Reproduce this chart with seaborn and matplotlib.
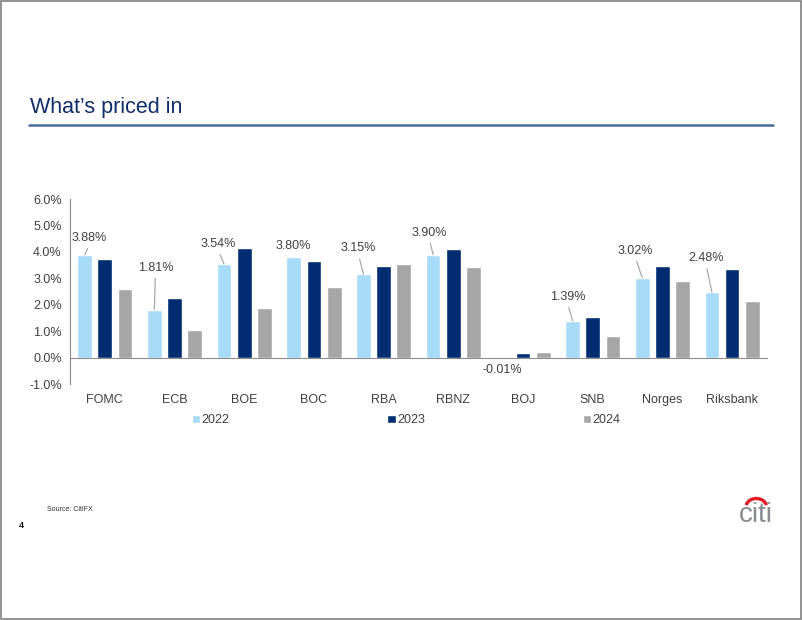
import pandas as pd
import matplotlib.pyplot as plt
import matplotlib.patches as mpatches
from matplotlib.ticker import FixedLocator, FuncFormatter
import seaborn as sns

banks = ['FOMC', 'ECB', 'BOE', 'BOC', 'RBA', 'RBNZ', 'BOJ', 'SNB', 'Norges', 'Riksbank']
years = ['2022', '2023', '2024']
y2022 = [3.88, 1.81, 3.54, 3.80, 3.15, 3.90, -0.01, 1.39, 3.02, 2.48]
y2023 = [3.74, 2.25, 4.14, 3.67, 3.47, 4.12, 0.17, 1.52, 3.46, 3.34]
y2024 = [2.59, 1.04, 1.87, 2.67, 3.54, 3.44, 0.22, 0.82, 2.90, 2.14]
yticks = [-1, 0, 1, 2, 3, 4, 5, 6]

# label offsets for the 2022 data labels (pixels from bar top)
label_offsets = [(5, 17), (1, 42), (-6, 20), (0, 11), (-5, 26),
                 (-4, 22), (-1, -12), (-5, 24), (-7, 27), (-6, 34)]

df = pd.DataFrame({'bank': banks * 3,
                   'year': [y for y in years for _ in banks],
                   'value': y2022 + y2023 + y2024})

sns.set_style('white')
plt.rcParams['font.family'] = ['Liberation Sans', 'DejaVu Sans']
text_col = '#404040'
axis_col = '#8c8c8c'
palette = {'2022': '#a6dcf7', '2023': '#002d72', '2024': '#a6a6a6'}

fig = plt.figure(figsize=(8.02, 6.2), dpi=100)
ax = fig.add_axes([0.0873, 0.3806, 0.869, 0.2984])

sns.barplot(data=df, x='bank', y='value', hue='year', hue_order=years,
            order=banks, palette=palette, width=0.87, gap=0.27,
            saturation=1, ax=ax)

ax.set_xlim(-0.5, len(banks) - 0.5)
ax.set_ylim(-1, 6)
ax.set_yticks(yticks)
ax.yaxis.set_major_formatter(FuncFormatter(lambda v, p: f'{v:.1f}%'))
ax.set_xlabel('')
ax.set_ylabel('')

for s in ['top', 'right']:
    ax.spines[s].set_visible(False)
ax.spines['left'].set_color(axis_col)
ax.spines['left'].set_linewidth(0.8)
ax.spines['bottom'].set_position(('data', 0))
ax.spines['bottom'].set_color(axis_col)
ax.spines['bottom'].set_linewidth(0.8)

ax.tick_params(axis='y', length=0, pad=6, labelsize=9, labelcolor=text_col)
ax.tick_params(axis='x', which='major', length=0, pad=26, labelsize=9, labelcolor=text_col)
ax.xaxis.set_minor_locator(FixedLocator([i - 0.5 for i in range(len(banks) + 1)]))
ax.tick_params(axis='x', which='minor', length=4, width=0.8, color=axis_col, direction='out')

# data labels on the 2022 bars
for i, v in enumerate(y2022):
    dx, dy = label_offsets[i]
    arrow = None
    if abs(dy) > 15:
        arrow = dict(arrowstyle='-', color='#a0a0a0', lw=0.8,
                     shrinkA=1, shrinkB=0, relpos=(0.5, 0))
    ax.annotate(f'{v:.2f}%', xy=(i - 0.29, v), xytext=(dx, dy),
                textcoords='offset pixels', ha='center', va='center',
                fontsize=9, color=text_col, arrowprops=arrow)

handles, labels = ax.get_legend_handles_labels()
ax.get_legend().remove()
fig.legend(handles, labels, loc='center left', bbox_to_anchor=(0.225, 0.322),
           ncol=3, frameon=False, fontsize=9, handlelength=0.7, handleheight=0.7,
           handletextpad=0.1, columnspacing=12.6, labelcolor=text_col)

# slide decoration
fig.text(0.037, 0.827, 'What\u2019s priced in', fontsize=15.5, color='#0f2d69',
         va='center', ha='left')
fig.add_artist(plt.Line2D([0.036, 0.964], [0.798, 0.798], color='#4a6a9a', lw=1.8))
fig.text(0.058, 0.179, 'Source: CitiFX', fontsize=5, color='#333333', va='center')
fig.text(0.024, 0.153, '4', fontsize=6.5, fontweight='bold', color='#111111', va='center')
fig.text(0.964, 0.170, 'citi', fontsize=20, color='#8a8d91', ha='right', va='center')
fig.add_artist(mpatches.Arc((0.943, 0.182), 0.026, 0.028, theta1=15, theta2=165,
                            color='#e31b23', lw=2.4, transform=fig.transFigure))
fig.add_artist(mpatches.Rectangle((0.001, 0.002), 0.998, 0.996, fill=False,
                                  edgecolor='#808080', lw=1.2, transform=fig.transFigure))

plt.savefig('out.png', dpi=100)
